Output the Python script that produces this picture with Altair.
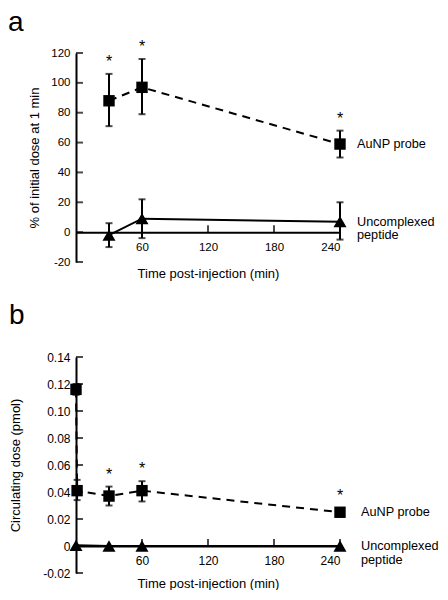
import altair as alt
import pandas as pd

FONT = "Liberation Sans"

# ---------- Panel a data ----------
a_probe_t = [30, 60, 240]
a_probe_v = [88, 97, 59]
a_probe_lo = [71, 79, 50]
a_probe_hi = [106, 116, 68]
a_pep_t = [30, 60, 240]
a_pep_v = [-2, 9, 7]
a_pep_lo = [-10, -4, -5]
a_pep_hi = [6, 22, 20]
a_star_t = [30, 60, 240]
a_star_hi = [106, 116, 68]
a_yticks = [-20, 0, 20, 40, 60, 80, 100, 120]

# ---------- Panel b data ----------
b_probe_t = [0, 1, 30, 60, 240]
b_probe_v = [0.116, 0.041, 0.037, 0.041, 0.025]
b_probe_lo = [0.112, 0.034, 0.030, 0.033, 0.022]
b_probe_hi = [0.120, 0.049, 0.044, 0.048, 0.028]
b_pep_t = [0, 30, 60, 240]
b_pep_v = [0.0005, 0.0, 0.0, 0.0]
b_star_t = [30, 60, 240]
b_star_hi = [0.044, 0.048, 0.028]
b_yticks = [-0.02, 0, 0.02, 0.04, 0.06, 0.08, 0.10, 0.12, 0.14]

x_ticks = [60, 120, 180, 240]
probe_label = "AuNP probe"
pep_label = "Uncomplexed\npeptide"
x_title = "Time post-injection (min)"

W = 264


def panel(letter, probe, pep, stars, yticks, ydom, H, ytitle, ytitle_x,
          ylabel_expr, label_dx, xtitle_y, tick_font, title_dx, title_offset):
    zero_px = H * ydom[1] / (ydom[1] - ydom[0])
    x_off = -(H - zero_px)
    xs = alt.Scale(domain=[0, 240], nice=False, zero=False)
    ys = alt.Scale(domain=ydom, nice=False, zero=False)

    dprobe = pd.DataFrame(probe)
    dpep = pd.DataFrame(pep)
    dstar = pd.DataFrame(stars)
    dyt = pd.DataFrame({"t": [0] * len(yticks), "v": yticks})
    dxt = pd.DataFrame({"t": x_ticks, "v": [0] * len(x_ticks)})
    dlab = pd.DataFrame({
        "t": [240, 240],
        "v": [probe["v"][-1], pep["v"][-1]],
        "text": [probe_label, pep_label],
    })

    ax_x = alt.Axis(
        values=x_ticks, title=x_title, orient="bottom", offset=x_off,
        ticks=False, grid=False, domainColor="black", domainWidth=2,
        labelPadding=9, labelFontSize=tick_font, labelColor="black",
        labelOverlap=False, labelFont=FONT, titleFont=FONT,
        titleFontSize=13, titleFontWeight="normal", titleColor="black",
        titleY=xtitle_y, titleBaseline="middle")
    ax_y = alt.Axis(
        values=yticks, title=ytitle, ticks=False, grid=False, orient="left",
        domainColor="black", domainWidth=2, labelPadding=6,
        labelFontSize=tick_font, labelColor="black", labelExpr=ylabel_expr,
        labelOverlap=False, labelFont=FONT, titleFont=FONT,
        titleFontSize=13, titleFontWeight="normal", titleColor="black",
        titleX=ytitle_x, titleBaseline="middle")
    X = alt.X("t:Q", scale=xs, axis=ax_x, title=x_title)
    Y = alt.Y("v:Q", scale=ys, axis=ax_y, title=ytitle)
    Ylo = alt.Y("lo:Q", scale=ys, axis=ax_y, title=ytitle)
    Yhi = alt.Y("hi:Q", scale=ys, axis=ax_y, title=ytitle)

    base_probe = alt.Chart(dprobe)
    layers = [
        base_probe.mark_line(color="black", strokeWidth=2, strokeDash=[8, 6]).encode(x=X, y=Y),
        alt.Chart(dpep).mark_line(color="black", strokeWidth=2).encode(x=X, y=Y),
        base_probe.mark_rule(color="black", strokeWidth=2).encode(x=X, y=Ylo, y2="hi:Q"),
        base_probe.mark_tick(color="black", thickness=2, size=7, orient="horizontal").encode(x=X, y=Ylo),
        base_probe.mark_tick(color="black", thickness=2, size=7, orient="horizontal").encode(x=X, y=Yhi),
    ]
    if "lo" in pep:
        layers += [
            alt.Chart(dpep).mark_rule(color="black", strokeWidth=2).encode(x=X, y=Ylo, y2="hi:Q"),
            alt.Chart(dpep).mark_tick(color="black", thickness=2, size=7, orient="horizontal").encode(x=X, y=Ylo),
            alt.Chart(dpep).mark_tick(color="black", thickness=2, size=7, orient="horizontal").encode(x=X, y=Yhi),
        ]
    layers += [
        base_probe.mark_point(shape="square", filled=True, color="black", opacity=1, size=130).encode(x=X, y=Y),
        alt.Chart(dpep).mark_point(shape="triangle-up", filled=True, color="black", opacity=1, size=170).encode(x=X, y=Y),
        alt.Chart(dstar).mark_text(text="*", fontSize=16, font=FONT, color="black", baseline="middle", dy=-12).encode(
            x=X, y=Yhi),
        alt.Chart(dyt).mark_tick(color="black", thickness=2, size=7, orient="horizontal", xOffset=3.5).encode(x=X, y=Y),
        alt.Chart(dxt).mark_tick(color="black", thickness=2, size=7, orient="vertical", yOffset=-3.5).encode(x=X, y=Y),
        alt.Chart(dlab).mark_text(font=FONT, fontSize=12.7, color="black", align="left", baseline="middle",
                                  dx=label_dx, lineBreak="\n", lineHeight=13.5).encode(x=X, y=Y, text="text:N"),
    ]
    return alt.layer(*layers).properties(
        width=W, height=H,
        title=alt.TitleParams(letter, anchor="start", frame="bounds", fontSize=28,
                              fontWeight="normal", font=FONT, color="black",
                              dx=title_dx, offset=title_offset),
    )


pa = panel("a",
           {"t": a_probe_t, "v": a_probe_v, "lo": a_probe_lo, "hi": a_probe_hi},
           {"t": a_pep_t, "v": a_pep_v, "lo": a_pep_lo, "hi": a_pep_hi},
           {"t": a_star_t, "hi": a_star_hi},
           a_yticks, [-20, 120], 209, "% of initial dose at 1 min", -42,
           "replace(datum.label, '\u2212', '-')", 17, 41, 11.5, -20, 2)

pb = panel("b",
           {"t": b_probe_t, "v": b_probe_v, "lo": b_probe_lo, "hi": b_probe_hi},
           {"t": b_pep_t, "v": b_pep_v},
           {"t": b_star_t, "hi": b_star_hi},
           b_yticks, [-0.02, 0.14], 216, "Circulating dose (pmol)", -61,
           "datum.value == 0 ? '0' : replace(format(datum.value, '.2f'), '\u2212', '-')", 21, 37, 12, 0, 21)

chart = (alt.vconcat(pa, pb, spacing=21, padding=0)
         .configure(font=FONT)
         .configure_view(strokeWidth=0, stroke="transparent"))

chart.save("out.html", embed_options={"renderer": "svg", "actions": False})
